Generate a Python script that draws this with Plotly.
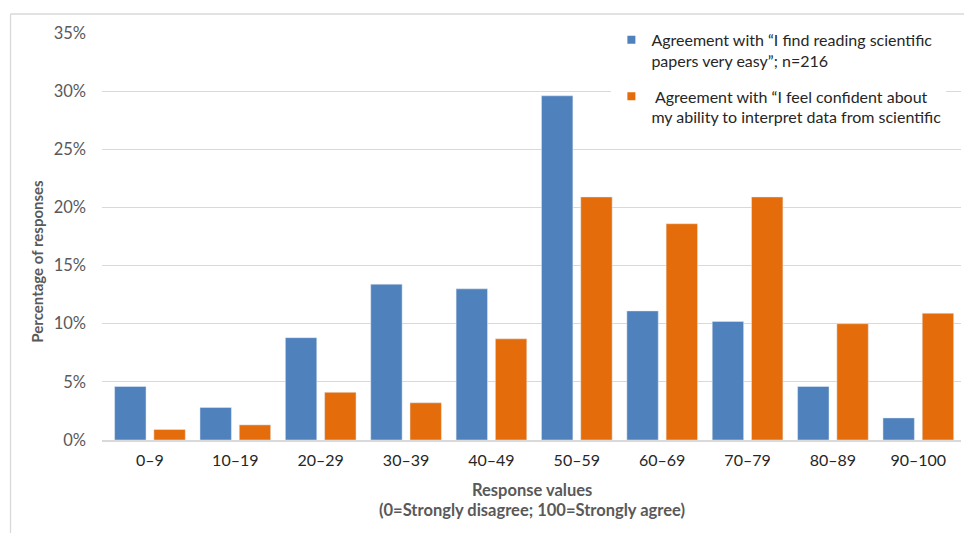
import plotly.graph_objects as go

# Response bins (0-100 agreement slider) and share of respondents per bin
categories = ["0–9", "10–19", "20–29", "30–39", "40–49",
              "50–59", "60–69", "70–79", "80–89", "90–100"]
reading_easy = [4.6, 2.8, 8.8, 13.4, 13.0, 29.6, 11.1, 10.2, 4.6, 1.9]
confident_data = [0.9, 1.3, 4.1, 3.2, 8.7, 20.9, 18.6, 20.9, 10.0, 10.9]

name_reading = "Agreement with “I find reading scientific<br>papers very easy”; n=216"
name_confident = "\u00a0Agreement with “I feel confident about<br>my ability to interpret data from scientific"

BLUE = "#4F81BD"
ORANGE = "#E46C0A"
GREY_TXT = "#595959"
GRID = "#D9D9D9"
FONT = "Lato, 'Open Sans', sans-serif"

fig = go.Figure()
fig.add_trace(go.Bar(x=categories, y=[v / 100 for v in reading_easy],
                     marker_color=BLUE, showlegend=False))
fig.add_trace(go.Bar(x=categories, y=[v / 100 for v in confident_data],
                     marker_color=ORANGE, showlegend=False))

# small square legend keys
for nm, col, grp in [(name_reading, BLUE, "a"), (name_confident, ORANGE, "b")]:
    fig.add_trace(go.Scatter(x=[categories[0]], y=[None], mode="markers", name=nm,
                             legendgroup=grp,
                             marker=dict(symbol="square", size=8, color=col)))

fig.update_layout(
    width=964, height=533,
    margin=dict(l=102, r=3, t=33, b=93, autoexpand=False),
    paper_bgcolor="white", plot_bgcolor="white",
    font=dict(family=FONT, color=GREY_TXT, size=16),
    barmode="group", bargap=0.08, bargroupgap=0.2,
    showlegend=True,
    legend=dict(x=0.593, y=1.025, xanchor="left", yanchor="top",
                bgcolor="white", font=dict(size=16, color="#262626", family=FONT),
                valign="top", tracegroupgap=12, itemsizing="trace"),
    xaxis=dict(type="category", showgrid=False, showline=True, linecolor=GRID,
               linewidth=1.5, ticks="", ticklabelstandoff=5, automargin=False,
               tickfont=dict(size=16, color="#262626")),
    yaxis=dict(range=[0, 0.35], dtick=0.05, tickformat=".0%", showgrid=True,
               gridcolor=GRID, gridwidth=1.3, zeroline=False, showline=False,
               ticks="", ticklabelstandoff=15, automargin=False,
               tickfont=dict(size=16.5, color=GREY_TXT)),
    annotations=[
        dict(text="<b>Percentage of responses</b>", xref="paper", yref="paper",
             x=-0.076, y=0.44, textangle=-90, showarrow=False,
             xanchor="center", yanchor="middle", font=dict(size=15, color=GREY_TXT)),
        dict(text="<b>Response values</b>", xref="paper", yref="paper",
             x=0.5, y=-0.122, showarrow=False, xanchor="center", yanchor="middle",
             font=dict(size=16.5, color=GREY_TXT)),
        dict(text="<b>(0=Strongly disagree; 100=Strongly agree)</b>", xref="paper",
             yref="paper", x=0.5, y=-0.172, showarrow=False, xanchor="center",
             yanchor="middle", font=dict(size=16.5, color=GREY_TXT)),
    ],
    shapes=[
        dict(type="line", xref="paper", yref="paper", x0=-0.1065, x1=1.004,
             y0=1.0467, y1=1.0467, line=dict(color=GRID, width=1.3)),
        dict(type="line", xref="paper", yref="paper", x0=-0.1065, x1=-0.1065,
             y0=1.0467, y1=-0.23, line=dict(color=GRID, width=1.3)),
    ],
)

fig.write_html("out.html")
